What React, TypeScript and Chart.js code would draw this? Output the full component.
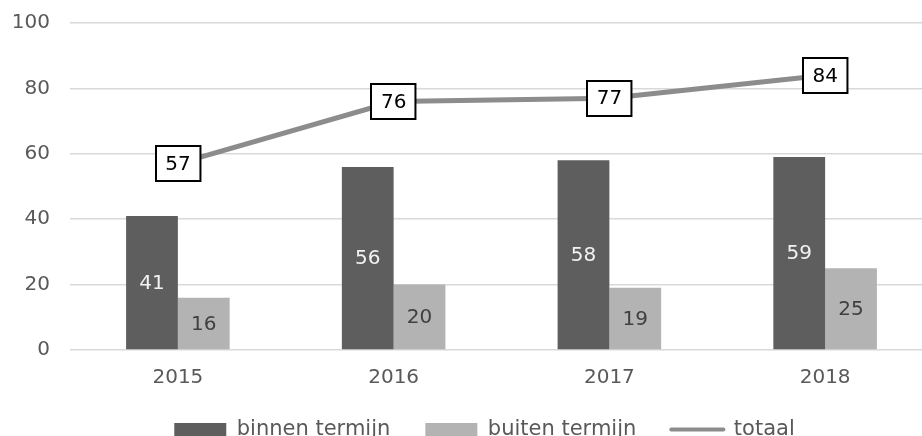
import { useEffect, useRef } from "react";
import { Chart, registerables } from "chart.js";

Chart.register(...registerables);

const years = ["2015", "2016", "2017", "2018"];
const binnenTermijn = [41, 56, 58, 59];
const buitenTermijn = [16, 20, 19, 25];
const totaal = [57, 76, 77, 84];
const seriesNames = ["binnen termijn", "buiten termijn", "totaal"];
const yMin = 0;
const yMax = 100;
const yStep = 20;

const FONT = '"DejaVu Sans", Verdana, sans-serif';
const DARK = "#5e5e5e";
const LIGHT = "#b3b3b3";
const LINE = "#8c8c8c";
const TEXT = "#595959";

const valueLabels = {
  id: "valueLabels",
  afterLayout(chart: any) {
    // nudge the bottom legend to where it sits in the original layout
    if (chart.legend) {
      chart.legend.left += 13;
      chart.legend.right += 13;
      chart.legend.top -= 2;
      chart.legend.bottom -= 2;
    }
  },
  afterDatasetsDraw(chart: any) {
    const ctx = chart.ctx;
    ctx.save();
    ctx.font = `20px ${FONT}`;
    ctx.textAlign = "center";
    ctx.textBaseline = "middle";
    chart.data.datasets.forEach((ds: any, i: number) => {
      const meta = chart.getDatasetMeta(i);
      meta.data.forEach((el: any, j: number) => {
        const text = String(ds.data[j]);
        if (ds.type === "line") {
          const w = ctx.measureText(text).width + 19;
          const h = 35;
          const x0 = Math.round(el.x - w / 2);
          const y0 = Math.round(el.y - h / 2);
          ctx.fillStyle = "#ffffff";
          ctx.fillRect(x0, y0, w, h);
          ctx.lineWidth = 2;
          ctx.strokeStyle = "#000000";
          ctx.strokeRect(x0, y0, w, h);
          ctx.fillStyle = "#000000";
          ctx.fillText(text, el.x, el.y + 1);
        } else {
          const p = el.getProps(["x", "y", "base"], true);
          ctx.fillStyle = ds.labelColor;
          ctx.fillText(text, p.x, (p.y + p.base) / 2 + 1);
        }
      });
    });
    ctx.restore();
  },
};

export default function App() {
  const ref = useRef<HTMLCanvasElement>(null);

  useEffect(() => {
    if (!ref.current) return;
    const chart = new Chart(ref.current, {
      type: "bar",
      data: {
        labels: years,
        datasets: [
          {
            type: "bar",
            label: seriesNames[0],
            data: binnenTermijn,
            backgroundColor: DARK,
            borderWidth: 0,
            order: 1,
            labelColor: "#f2f2f2",
          } as any,
          {
            type: "bar",
            label: seriesNames[1],
            data: buitenTermijn,
            backgroundColor: LIGHT,
            borderWidth: 0,
            order: 1,
            labelColor: "#404040",
          } as any,
          {
            type: "line",
            label: seriesNames[2],
            data: totaal,
            borderColor: LINE,
            backgroundColor: LINE,
            borderWidth: 5,
            pointRadius: 0,
            tension: 0,
            order: 0,
          } as any,
        ],
      },
      options: {
        animation: false,
        responsive: false,
        devicePixelRatio: 1,
        datasets: {
          bar: { categoryPercentage: 0.48, barPercentage: 1 },
        },
        layout: { padding: { left: 10, right: 27, top: 23, bottom: 0 } },
        plugins: {
          tooltip: { enabled: false },
          legend: {
            position: "bottom",
            labels: {
              color: TEXT,
              font: { family: FONT, size: 21 },
              usePointStyle: true,
              pointStyleWidth: 52,
              boxHeight: 13,
              padding: 15,
              sort: (a: any, b: any) => a.datasetIndex - b.datasetIndex,
              generateLabels(chart: any) {
                const items = Chart.defaults.plugins.legend.labels.generateLabels(chart);
                return items.map((it: any) => {
                  const ds = chart.data.datasets[it.datasetIndex];
                  if (ds.type === "line") {
                    return { ...it, pointStyle: "line", lineWidth: 4, lineCap: "round", strokeStyle: LINE };
                  }
                  return { ...it, text: it.text + "   ", pointStyle: "rect", lineWidth: 0 };
                });
              },
            },
          },
        },
        scales: {
          x: {
            grid: { display: false, drawTicks: false },
            border: { display: false },
            ticks: { color: TEXT, font: { family: FONT, size: 20 }, padding: 16 },
          },
          y: {
            min: yMin,
            max: yMax,
            grid: { color: "#d9d9d9", lineWidth: 1.5, drawTicks: false },
            border: { display: false },
            ticks: { stepSize: yStep, color: TEXT, font: { family: FONT, size: 20 }, padding: 20 },
            afterFit(scale: any) {
              scale.width = 60;
              scale.paddingTop = 12;
              scale.paddingBottom = 12;
            },
          },
        },
      },
      plugins: [valueLabels],
    } as any);
    return () => chart.destroy();
  }, []);

  return (
    <div style={{ position: "absolute", left: 0, top: 0, width: 922, height: 436, overflow: "hidden", background: "#fff" }}>
      <canvas ref={ref} width={960} height={452} style={{ width: 960, height: 452, display: "block" }} />
    </div>
  );
}
